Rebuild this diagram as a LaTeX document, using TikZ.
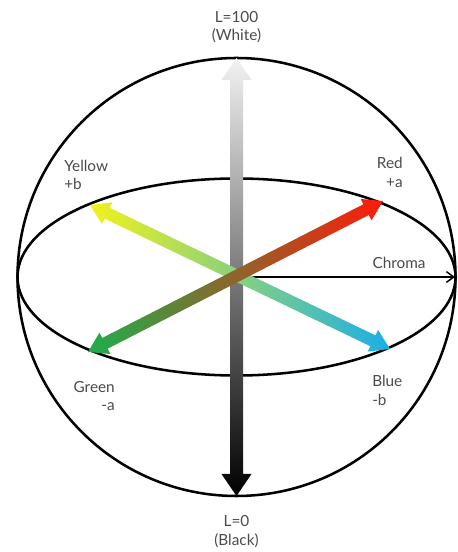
\documentclass[tikz,border=0pt]{standalone}
\usepackage{fontspec}
\setmainfont{Lato}
\usetikzlibrary{arrows.meta,calc}
\definecolor{txt}{HTML}{4A4A4A}
\definecolor{grn}{HTML}{1FAE4B}
\definecolor{redc}{HTML}{FF1A0A}
\definecolor{midgr}{HTML}{A0672C}
\definecolor{yel}{HTML}{F2F21A}
\definecolor{blu}{HTML}{1AAEE8}
\definecolor{midyb}{HTML}{A6E096}
\begin{document}
\begin{tikzpicture}[x=0.75pt,y=0.75pt,
  lbl/.style={text=txt, font=\fontsize{11.5}{13.8}\selectfont, inner sep=0pt},
  rim/.style={line width=1.9pt, black}]
\useasboundingbox (0,0) rectangle (457,552);
\coordinate (C) at (236.5,275);
\coordinate (white) at (236.5,494);
\coordinate (black) at (236.5,56);
\coordinate (green) at (88,200);
\coordinate (red) at (383,351);
\coordinate (yellow) at (90,347);
\coordinate (blue) at (390,203);
\coordinate (chromaend) at (455,275);

% sphere and equator
\draw[rim] (C) circle[radius=219];
\draw[rim] (C) ellipse[x radius=219, y radius=98.5];

% lightness axis
\shade[top color=black!5, middle color=black!35, bottom color=black]
  (black) -- ++(-15,22) -- ++(8.5,0) -- ($(white)+(-6.5,-22)$) -- ++(-8.5,0)
  -- (white) -- ++(15,-22) -- ++(-8.5,0) -- ($(black)+(6.5,22)$) -- ++(8.5,0) -- cycle;

% chroma
\draw[line width=1.1pt, -{Straight Barb[length=5.5pt,width=8pt]}] (C) -- (chromaend);

% yellow - blue axis
\begin{scope}[shift={(yellow)}, rotate=-25.64]
\shade[left color=yel, middle color=midyb, right color=blu]
  (0,0) -- (19,12) -- (19,6) -- (313.8,6) -- (313.8,12) -- (332.8,0)
  -- (313.8,-12) -- (313.8,-6) -- (19,-6) -- (19,-12) -- cycle;
\end{scope}

% green - red axis
\begin{scope}[shift={(green)}, rotate=27.11]
\shade[left color=grn, middle color=midgr, right color=redc]
  (0,0) -- (19,12) -- (19,6) -- (312.4,6) -- (312.4,12) -- (331.4,0)
  -- (312.4,-12) -- (312.4,-6) -- (19,-6) -- (19,-12) -- cycle;
\end{scope}

% labels
\node[lbl, align=center] (lwhite) at (236.5,525) {L=100\\(White)};
\node[lbl, align=center] (lblack) at (236.5,20.5) {L=0\\(Black)};
\node[lbl, align=left, anchor=west] (lyellow) at (64,377) {Yellow\\+b};
\node[lbl, align=right, anchor=east] (lred) at (403,379.5) {Red\\+a};
\node[lbl, align=right, anchor=east] (lgreen) at (115,156) {Green\\-a};
\node[lbl, align=left, anchor=west] (lblue) at (372,161.5) {Blue\\-b};
\node[lbl] (lchroma) at (399,289) {Chroma};
\end{tikzpicture}
\end{document}
